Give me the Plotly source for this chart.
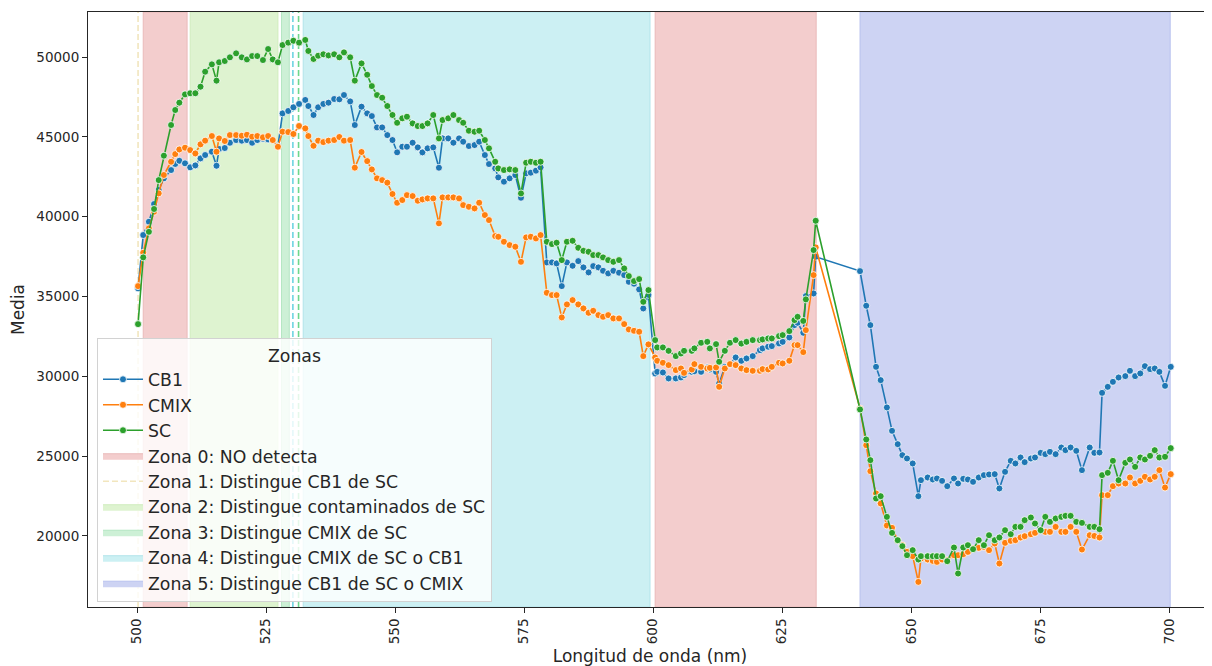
import plotly.graph_objects as go

# ---------------- data ----------------
wavelength = [
    500.2, 501.2, 502.3, 503.3, 504.2, 505.2, 506.6, 507.4, 508.2, 509.3,
    510.3, 511.3, 512.3, 513.2, 514.5, 515.4, 515.9, 517.0, 518.0, 519.2,
    520.3, 521.3, 522.3, 523.3, 524.4, 525.4, 526.3, 527.3, 528.2, 529.3,
    530.3, 531.4, 532.6, 533.2, 534.2, 535.1, 536.1, 537.1, 538.2, 539.2,
    540.1, 541.3, 542.2, 543.5, 544.6, 545.5, 546.5, 547.5, 548.5, 549.5,
    550.4, 551.4, 552.3,
    553.4, 554.4, 555.3, 556.3, 557.4, 558.5, 559.2, 560.3, 561.3, 562.4,
    563.2, 564.3, 565.4, 566.3, 567.4, 568.2, 569.4, 570.0, 571.1, 572.2,
    573.3, 574.4, 575.4, 576.3, 577.3, 578.2, 579.4, 580.4, 581.3, 582.3,
    583.3, 584.4, 585.5, 586.5, 587.5, 588.4, 589.4, 590.3, 591.3, 592.3,
    593.4, 594.4, 595.3, 596.3, 597.3, 598.1, 599.1,
    600.4, 600.8, 601.9, 603.0, 604.4, 605.4, 606.0, 607.5, 608.0, 609.3,
    610.5, 611.0, 612.2, 612.8, 613.9, 614.9, 616.0, 617.1, 618.1, 619.3,
    620.7, 621.2, 622.3, 623.0, 624.4, 625.1, 626.4, 627.4, 628.0, 629.1,
    629.6, 631.1, 631.5,
    640.1, 641.3, 642.1, 643.2, 644.1, 645.3, 646.3, 647.4, 648.3, 649.2,
    650.3, 651.4, 651.9, 653.2, 654.2, 655.0, 656.0, 657.0, 658.3, 659.1,
    660.1, 661.0, 662.0, 663.1, 664.1, 665.1, 666.2, 667.1, 668.2, 669.3,
    670.2, 671.2, 672.0, 673.2, 674.0, 675.1, 676.0, 676.9, 678.0, 679.1,
    679.9, 680.9, 682.0, 683.1, 684.6, 685.5, 686.5, 687.0, 688.1, 689.1,
    690.2, 691.5, 692.4, 693.4, 694.4, 695.3, 696.3, 697.2, 698.1, 699.2,
    700.3,
]

cb1 = [
    35510, 38850, 39680, 40790, 41670, 42400, 42920, 43300, 43500, 43340,
    43090, 43210, 43650, 43860, 44070, 43190, 44240, 44300, 44630, 44800,
    44760, 44800, 44630, 44800, 44880, 44840, 44800, 44420, 46470, 46620,
    46850, 47060, 47310, 46930, 46370, 46850, 47060, 47140, 47370, 47350,
    47620, 47220, 45740, 46890, 46470, 46300, 45590, 45590, 45110, 44800,
    44030, 44380, 44380,
    44632, 44340, 44026, 44279, 44340, 43065, 44904, 44904, 44632, 44904,
    44695, 44424, 44486, 44695, 43859, 43295, 43023, 42462, 42190, 42399,
    42606, 41185, 42712, 42754, 42879, 43086, 37135, 37135, 37072, 35651,
    37135, 36923, 37217, 36823, 36510, 36904, 36823, 36610, 36447, 36610,
    36489, 36340, 35920, 35800, 35442, 34250, 35100,
    30180, 30280, 30240, 29867, 29867, 29930, 30075, 30280, 30320, 30280,
    30555, 30430, 30280, 29553, 30594, 30743, 31180, 30972, 31117, 31264,
    31640, 31747, 31852, 31890, 32060, 32160, 32436, 33207, 33352, 32727,
    35024, 35190, 37490,
    36590, 34420, 33207, 30594, 29760, 28050, 26585, 25750, 25060, 24853,
    24540, 22491, 23495, 23662, 23537, 23600, 23450, 23118, 23600, 23286,
    23578, 23537, 23390, 23662, 23809, 23851, 23871, 22974, 24017, 24706,
    24540, 24916, 24622, 24853, 24916, 25206, 25123, 25269, 25123, 25540,
    25374, 25540, 25332, 24122, 25540, 25206, 25227, 28965, 29341, 29654,
    29926, 30011, 30344, 30011, 30180, 30636, 30450, 30490, 30280, 29404,
    30594,
]

cmix = [
    35650, 37740, 39270, 40310, 41460, 42610, 43440, 43920, 44210, 44320,
    44170, 43960, 44530, 44760, 45050, 44070, 44900, 44740, 45110, 45110,
    45070, 45130, 45010, 45050, 44970, 45050, 44800, 44380, 45320, 45300,
    45180, 45680, 45530, 45050, 44440, 44760, 44670, 44760, 44800, 44990,
    44760, 44800, 43070, 44050, 43480, 42960, 42400, 42290, 42130, 41420,
    40870, 41040, 41350,
    41290, 40998, 41081, 41144, 41144, 39580, 41206, 41206, 41206, 41144,
    40726, 40620, 40517, 40872, 40100, 39786, 38784, 38741, 38427, 38220,
    38115, 37173, 38701, 38741, 38638, 38846, 35232, 35087, 35087, 33690,
    34504, 34774, 34504, 34253, 33978, 34103, 33834, 33728, 33834, 33627,
    33627, 33270, 32937, 32850, 32790, 31265, 32000,
    31180, 30972, 30847, 30701, 30388, 30491, 30216, 30430, 30764, 30594,
    30491, 30530, 30555, 29343, 30491, 30764, 30701, 30491, 30388, 30344,
    30344, 30450, 30430, 30594, 30847, 30805, 30972, 31955, 31955, 31515,
    32894, 36340, 38076,
    27986, 25688, 24059, 22662, 22035, 20657, 20508, 19735, 19422, 19003,
    18733, 17122, 18588, 18526, 18438, 18376, 18526, 18482, 18796, 18796,
    18858, 19003, 19214, 19255, 19318, 19110, 19527, 18275, 19568, 19694,
    19735, 19903, 19986, 20110, 20194, 20361, 20257, 20257, 20570, 20257,
    20257, 20570, 20257, 19151, 20047, 20000, 19903, 22555, 22555, 23118,
    23286, 23286, 23662, 23286, 23452, 23704, 23537, 23704, 24122, 23035,
    23871,
]

sc = [
    33270, 37450, 39050, 40480, 42290, 43820, 45740, 46680, 47140, 47660,
    47730, 47730, 48140, 49080, 49540, 48520, 49670, 49750, 49980, 50230,
    49980, 49850, 50060, 50060, 49810, 50500, 49850, 49670, 50750, 50900,
    51020, 50900, 51070, 50380, 49880, 50080, 50170, 50100, 50170, 49980,
    50290, 49980, 48520, 49600, 48890, 48180, 47620, 47450, 46930, 46370,
    45880, 46160, 46260,
    45843, 45677, 45677, 45843, 46366, 44904, 46052, 46159, 46366, 46052,
    45883, 45383, 45321, 45383, 44800, 44279, 43440, 43023, 42919, 42963,
    42919, 41457, 43378, 43440, 43378, 43440, 38427, 38283, 38367, 37280,
    38427, 38489, 38050, 37862, 37800, 37593, 37593, 37449, 37280, 37173,
    37280, 36759, 36277, 35964, 36089, 34667, 35400,
    32268, 31810, 31810, 31596, 31265, 31430, 31596, 31596, 31747, 32100,
    32160, 31747, 32016, 30910, 31596, 32100, 32268, 32050, 32160, 32268,
    32268, 32311, 32373, 32373, 32518, 32581, 32832, 33520, 33728, 33470,
    34818, 37907, 39742,
    27923, 26044, 24747, 22348, 22491, 21196, 20194, 19735, 19360, 18796,
    19110, 18526, 18733, 18733, 18733, 18733, 18733, 18420, 19276, 17648,
    19276, 19422, 19172, 19735, 19422, 20047, 19735, 19903, 20361, 20110,
    20570, 20570, 20988, 21155, 20779, 20361, 21196, 20883, 21092, 21196,
    21259, 21259, 20883, 20820, 20570, 20570, 20424, 23809, 23955, 24706,
    23495, 24580, 24790, 24330, 24916, 24790, 25018, 25374, 24916, 24958,
    25500,
]

series_names = ["CB1", "CMIX", "SC"]
series_colors = ["#1f77b4", "#ff7f0e", "#2ca02c"]

# zones: name, spans (start, end) and single-wavelength lines
zone_names = [
    "Zona 0: NO detecta",
    "Zona 1: Distingue CB1 de SC",
    "Zona 2: Distingue contaminados de SC",
    "Zona 3: Distingue CMIX de SC",
    "Zona 4: Distingue CMIX de SC o CB1",
    "Zona 5: Distingue CB1 de SC o CMIX",
]
zone_spans = [
    [(501.2, 509.7), (600.4, 631.6)],
    [],
    [(510.3, 527.3)],
    [(528.0, 529.5)],
    [(532.2, 599.4)],
    [(640.1, 700.2)],
]
zone_lines = [[], [500.2], [], [531.3], [530.2], []]
zone_fill = ["rgb(243,205,205)", "rgb(248,240,214)", "rgb(222,243,208)",
             "rgb(205,240,214)", "rgb(204,240,243)", "rgb(205,211,243)"]
zone_edge = ["rgb(234,186,186)", "rgb(244,232,196)", "rgb(208,236,190)",
             "rgb(180,230,195)", "rgb(178,228,234)", "rgb(184,194,238)"]
zone_dash = ["rgb(230,160,160)", "rgb(242,230,190)", "rgb(180,225,140)",
             "rgb(110,215,140)", "rgb(110,212,225)", "rgb(150,160,235)"]

x_range = [490.5, 708.3]
y_range = [15550, 52820]
x_ticks = [500, 525, 550, 575, 600, 625, 650, 675, 700]
y_ticks = [20000, 25000, 30000, 35000, 40000, 45000, 50000]

# ---------------- figure ----------------
fig = go.Figure()
FONT = "DejaVu Sans, Liberation Sans, sans-serif"
TXT = "#262626"

for i, name in enumerate(zone_names):
    rank = 10 + i
    shown = False
    if zone_spans[i]:
        xs, ys = [], []
        for (a, b) in zone_spans[i]:
            xs += [a, b, b, a, a, None]
            ys += [y_range[0], y_range[0], y_range[1], y_range[1], y_range[0], None]
        fig.add_trace(go.Scatter(
            x=xs, y=ys, mode="lines", fill="toself",
            fillcolor=zone_fill[i], line=dict(color=zone_edge[i], width=1),
            name=name, legendrank=rank, showlegend=True,
            hoverinfo="skip"))
        shown = True
    for v in zone_lines[i]:
        fig.add_trace(go.Scatter(
            x=[v, v], y=y_range, mode="lines",
            line=dict(color=zone_dash[i], width=1.6, dash="6px,3px"),
            name=name, legendrank=rank,
            showlegend=not shown, hoverinfo="skip"))
        shown = True

for name, ys, col, r in zip(series_names, [cb1, cmix, sc], series_colors, [1, 2, 3]):
    fig.add_trace(go.Scatter(
        x=wavelength, y=ys, mode="lines+markers", name=name, legendrank=r,
        line=dict(color=col, width=1.6),
        marker=dict(color=col, size=7, line=dict(color="white", width=0.8)),
    ))

axis_common = dict(
    showgrid=False, zeroline=False, showline=True, linecolor=TXT,
    linewidth=1.1, ticks="outside", ticklen=5, tickwidth=1.1, tickcolor=TXT,
    tickfont=dict(family=FONT, size=13.5, color=TXT),
)

# the page adds an 8px body margin, so the figure is 8px smaller / shifted
fig.update_layout(
    width=1204, height=658,
    margin=dict(l=80, r=0, t=4, b=59, autoexpand=False),
    paper_bgcolor="white", plot_bgcolor="white",
    font=dict(family=FONT, color=TXT),
    showlegend=True,
    legend=dict(
        x=0.008, y=0.452, xanchor="left", yanchor="top",
        bgcolor="rgba(255,255,255,0.82)", bordercolor="rgb(210,210,210)",
        borderwidth=1, font=dict(family=FONT, size=17.3, color=TXT),
        title=dict(text="Zonas", side="top center",
                   font=dict(family=FONT, size=17.3, color=TXT)),
        itemwidth=40, traceorder="normal",
    ),
    xaxis=dict(
        range=x_range, tickvals=x_ticks, ticktext=[str(t) for t in x_ticks],
        tickangle=-90, mirror=True, automargin=False,
        title=dict(text="Longitud de onda (nm)", standoff=6,
                   font=dict(family=FONT, size=17, color=TXT)),
        **axis_common,
    ),
    yaxis=dict(
        range=y_range, tickvals=y_ticks, ticktext=[str(t) for t in y_ticks],
        automargin=False,
        title=dict(text="Media", standoff=8,
                   font=dict(family=FONT, size=17, color=TXT)),
        **axis_common,
    ),
)

fig.write_html("out.html")
